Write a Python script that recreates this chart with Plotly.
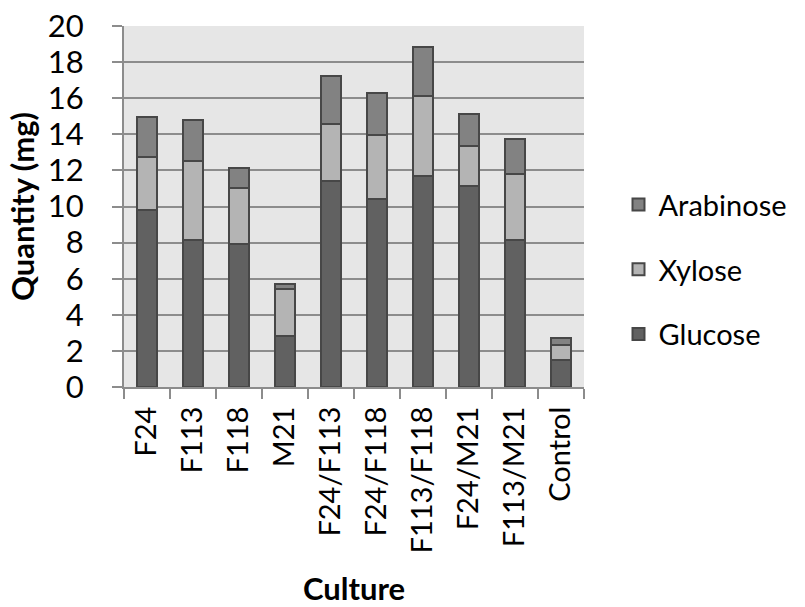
import plotly.graph_objects as go

# Sugar quantities per culture (mg)
cultures = ["F24", "F113", "F118", "M21", "F24/F113", "F24/F118",
            "F113/F118", "F24/M21", "F113/M21", "Control"]
glucose = [9.83, 8.13, 7.91, 2.83, 11.39, 10.43, 11.68, 11.15, 8.13, 1.52]
xylose = [2.92, 4.40, 3.13, 2.62, 3.18, 3.54, 4.46, 2.21, 3.66, 0.79]
arabinose = [2.19, 2.29, 1.12, 0.28, 2.66, 2.30, 2.71, 1.76, 1.93, 0.41]

y_ticks = [0, 2, 4, 6, 8, 10, 12, 14, 16, 18, 20]

FONT = "Lato"
OUTLINE = "#474747"

# (name, values, fill colour, legend rank) - stacked bottom to top
series = [
    ("Glucose", glucose, "#616161", 3),
    ("Xylose", xylose, "#b4b4b4", 2),
    ("Arabinose", arabinose, "#828282", 1),
]

fig = go.Figure()
for name, vals, color, rank in series:
    fig.add_trace(go.Bar(
        x=cultures, y=vals, name=name, legendgroup=name, legendrank=rank,
        marker=dict(color=color, line=dict(color=OUTLINE, width=2)),
    ))

fig.update_layout(
    barmode="stack",
    bargap=0.58,
    width=805, height=607,
    margin=dict(l=124, r=221, t=26, b=220, autoexpand=False),
    paper_bgcolor="white",
    plot_bgcolor="#e6e6e6",
    font=dict(family=FONT, size=29, color="black"),
    showlegend=True,
    legend=dict(
        x=1.075, xanchor="left", xref="paper",
        y=0.325, yanchor="middle",
        traceorder="grouped",
        tracegroupgap=24,
        font=dict(family=FONT, size=29),
        bgcolor="rgba(0,0,0,0)",
        itemsizing="constant",
    ),
)

fig.update_yaxes(
    range=[0, 20],
    tickvals=y_ticks,
    automargin=False,
    ticks="outside", ticklen=10, tickwidth=2, tickcolor="#8c8c8c",
    ticklabelstandoff=22,
    showgrid=True, gridcolor="#8c8c8c", gridwidth=2,
    showline=True, linecolor="#8c8c8c", linewidth=2,
    zeroline=False,
    tickfont=dict(family=FONT, size=31),
    title=dict(text="<b>Quantity (mg)</b>", font=dict(family=FONT, size=31), standoff=4),
)

fig.update_xaxes(
    automargin=False,
    tickangle=-90,
    ticks="outside", ticklen=10, tickwidth=2, tickcolor="#8c8c8c",
    tickson="boundaries",
    ticklabelstandoff=6,
    showgrid=False,
    showline=True, linecolor="#8c8c8c", linewidth=2,
    tickfont=dict(family=FONT, size=29),
    title=dict(text="<b>Culture</b>", font=dict(family=FONT, size=31), standoff=30),
)

fig.write_html("out.html")
